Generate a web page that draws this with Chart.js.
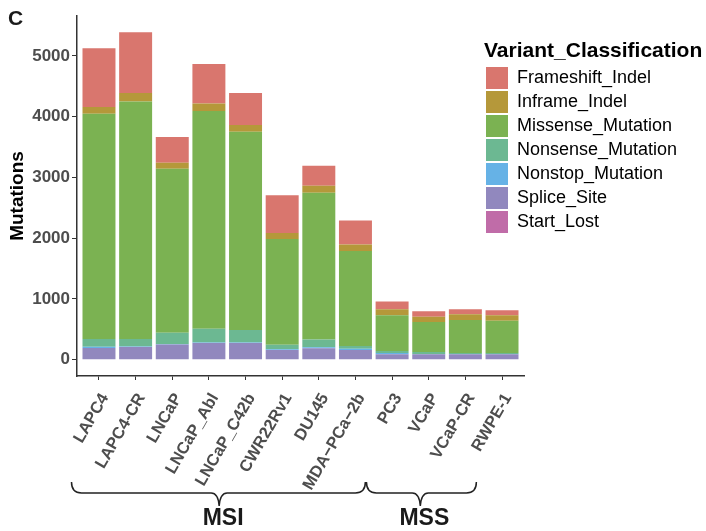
<!DOCTYPE html>
<html>
<head>
<meta charset="utf-8">
<script src="https://cdn.jsdelivr.net/npm/chart.js@4.4.1/dist/chart.umd.min.js"></script>
<style>
  html, body { margin: 0; padding: 0; background: #ffffff; }
  #wrap { width: 706px; height: 531px; position: relative; }
</style>
</head>
<body>
<div id="wrap"><canvas id="c" width="706" height="531"></canvas></div>
<script>
// ---- data ----
const categories = ['LAPC4','LAPC4-CR','LNCaP','LNCaP_Abl','LNCaP_C42b','CWR22Rv1','DU145','MDA\u2212PCa\u22122b','PC3','VCaP','VCaP-CR','RWPE-1'];
const variantClasses = ['Frameshift_Indel','Inframe_Indel','Missense_Mutation','Nonsense_Mutation','Nonstop_Mutation','Splice_Site','Start_Lost'];
const frameshiftIndel  = [969, 1001, 426, 651, 529, 623, 328, 393, 126, 93, 82, 81];
const inframeIndel     = [108, 141, 98, 120, 110, 98, 115, 110, 98, 87, 98, 93];
const missenseMutation = [3710, 3907, 2700, 3585, 3262, 1738, 2417, 1562, 590, 492, 541, 530];
const nonsenseMutation = [126, 126, 186, 229, 208, 77, 126, 45, 33, 33, 17, 17];
const nonstopMutation  = [20, 8, 8, 8, 8, 12, 18, 22, 22, 5, 5, 5];
const spliceSite       = [185, 200, 240, 265, 265, 150, 180, 150, 80, 80, 80, 80];
const startLost        = [8, 8, 8, 8, 8, 8, 8, 8, 8, 8, 8, 8];
const yTicks = [0, 1000, 2000, 3000, 4000, 5000];
const groups = ['MSI', 'MSS'];
const groupFirst = [0, 8];
const groupLast = [7, 11];

// ---- styles ----
const colors = {
  Frameshift_Indel: '#D9766E',
  Inframe_Indel: '#B5983A',
  Missense_Mutation: '#7BB252',
  Nonsense_Mutation: '#6CB892',
  Nonstop_Mutation: '#66B2E6',
  Splice_Site: '#9188BE',
  Start_Lost: '#C06CA8'
};
const seriesValues = {
  Frameshift_Indel: frameshiftIndel,
  Inframe_Indel: inframeIndel,
  Missense_Mutation: missenseMutation,
  Nonsense_Mutation: nonsenseMutation,
  Nonstop_Mutation: nonstopMutation,
  Splice_Site: spliceSite,
  Start_Lost: startLost
};
// stacked bottom-first
const stackOrder = variantClasses.slice().reverse();
const datasets = stackOrder.map(name => ({
  label: name,
  data: seriesValues[name].map((v, i) => ({ x: i, y: v })),
  backgroundColor: colors[name],
  borderWidth: 0,
  categoryPercentage: 0.9,
  barPercentage: 1.0
}));

const FONT = "'Liberation Sans', Arial, Helvetica, sans-serif";
const AXIS_COLOR = '#333333';
const TICK_TEXT = '#4D4D4D';

const decorPlugin = {
  id: 'decor',
  afterDraw(chart) {
    const ctx = chart.ctx;
    const xs = chart.scales.x;
    ctx.save();
    // panel tag
    ctx.fillStyle = '#1A1A1A';
    ctx.font = 'bold 21px ' + FONT;
    ctx.textAlign = 'left';
    ctx.textBaseline = 'alphabetic';
    ctx.fillText('C', 8, 25);

    // legend
    ctx.fillStyle = '#000000';
    ctx.font = 'bold 21px ' + FONT;
    ctx.fillText('Variant_Classification', 484, 57);
    ctx.font = '18px ' + FONT;
    ctx.textBaseline = 'middle';
    variantClasses.forEach((name, i) => {
      const y = 67 + 24 * i;
      ctx.fillStyle = colors[name];
      ctx.fillRect(486, y, 22, 22);
      ctx.fillStyle = '#000000';
      ctx.fillText(name, 517, y + 11.5);
    });

    // group braces
    const braceDefs = [
      { x0: xs.getPixelForValue(groupFirst[0] - 0.75), x1: xs.getPixelForValue(groupLast[0] + 0.27), tip: xs.getPixelForValue(3.28) },
      { x0: xs.getPixelForValue(groupFirst[1] - 0.70), x1: xs.getPixelForValue(groupLast[1] - 0.70), tip: xs.getPixelForValue(8.77) }
    ];
    ctx.strokeStyle = '#222222';
    ctx.lineWidth = 1.5;
    const yTop = 482, yMid = 493, yTip = 506;
    braceDefs.forEach((b, gi) => {
      const r = 10;
      ctx.beginPath();
      ctx.moveTo(b.x0, yTop);
      ctx.quadraticCurveTo(b.x0, yMid, b.x0 + r, yMid);
      ctx.lineTo(b.tip - 8, yMid);
      ctx.quadraticCurveTo(b.tip - 1, yMid, b.tip, yTip);
      ctx.quadraticCurveTo(b.tip + 1, yMid, b.tip + 8, yMid);
      ctx.lineTo(b.x1 - r, yMid);
      ctx.quadraticCurveTo(b.x1, yMid, b.x1, yTop);
      ctx.stroke();
      ctx.fillStyle = '#1A1A1A';
      ctx.font = 'bold 23px ' + FONT;
      ctx.textAlign = 'center';
      ctx.textBaseline = 'alphabetic';
      ctx.fillText(groups[gi], b.tip + 4, 525);
    });
    ctx.restore();
  }
};

new Chart(document.getElementById('c'), {
  type: 'bar',
  data: { datasets: datasets },
  options: {
    responsive: false,
    animation: false,
    devicePixelRatio: 1,
    layout: { padding: { left: 0, right: 182, top: 16, bottom: 0 } },
    plugins: {
      legend: { display: false },
      tooltip: { enabled: false }
    },
    scales: {
      x: {
        type: 'linear',
        stacked: true,
        offset: false,
        min: -0.6,
        max: categories.length - 0.4,
        afterBuildTicks(s) { s.ticks = categories.map((c, i) => ({ value: i })); },
        grid: { display: true, offset: false, drawOnChartArea: false, drawTicks: true, tickLength: 4, color: AXIS_COLOR, lineWidth: 1 },
        border: { display: true, color: AXIS_COLOR, width: 1.5 },
        ticks: {
          autoSkip: false,
          maxRotation: 60,
          minRotation: 60,
          padding: 10,
          labelOffset: 6,
          color: TICK_TEXT,
          font: { family: FONT, size: 16.5, weight: 'bold' },
          callback: (v) => categories[Math.round(v)]
        },
        afterFit(s) { s.height = 531 - 376; }
      },
      y: {
        stacked: true,
        min: -269,
        max: 5657,
        afterBuildTicks(s) { s.ticks = yTicks.map(v => ({ value: v })); },
        grid: { display: true, drawOnChartArea: false, drawTicks: true, tickLength: 5, color: AXIS_COLOR, lineWidth: 1 },
        border: { display: true, color: AXIS_COLOR, width: 1.5 },
        ticks: {
          padding: 2,
          color: TICK_TEXT,
          font: { family: FONT, size: 17, weight: 'bold' },
          callback: v => String(v)
        },
        title: {
          display: true,
          text: 'Mutations',
          color: '#000000',
          font: { family: FONT, size: 19, weight: 'bold' },
          padding: { top: 6, bottom: 0 }
        },
        afterFit(s) { s.width = 77; }
      }
    }
  },
  plugins: [decorPlugin]
});
</script>
</body>
</html>
